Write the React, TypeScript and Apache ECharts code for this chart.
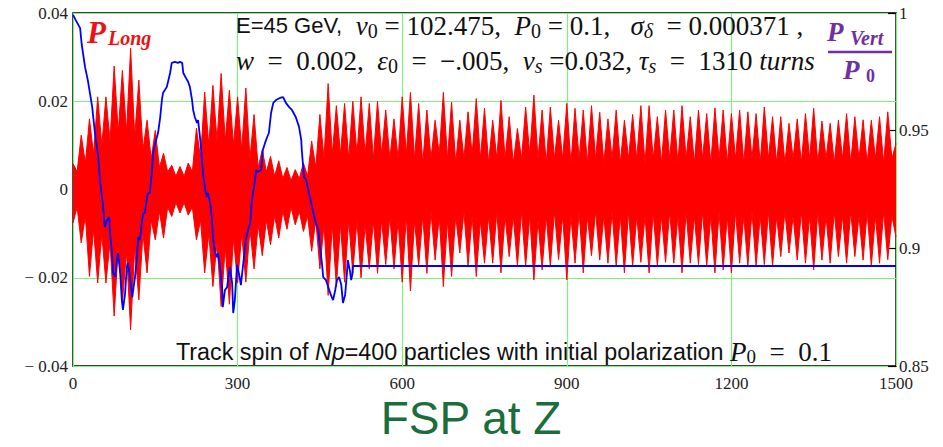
import { useEffect, useRef } from 'react';
import * as echarts from 'echarts';

// ---- data ----
// P_Long: the fast spin oscillation is drawn as its per-column envelope.
// Spike columns every 15 turns (upper / lower extremes) and the notch levels between them.
const spikeTurnStep = 15;
const hiPeaks = [
  0.0059, 0.0123, 0.016, 0.021, 0.021, 0.028, 0.027, 0.032, 0.0248, 0.0157,
  0.0134, 0.0082, 0.0055, 0.0052, 0.006, 0.0139, 0.0221, 0.0236, 0.0263, 0.0225,
  0.021, 0.023, 0.017, 0.009, 0.0075, 0.0065, 0.005, 0.0045, 0.006, 0.011,
  0.017, 0.024, 0.019, 0.0195, 0.02, 0.021, 0.0195, 0.02, 0.018, 0.016,
  0.021, 0.022, 0.0195, 0.018, 0.0157, 0.022, 0.0198, 0.0157, 0.0176, 0.0206,
  0.0184, 0.0157, 0.0202, 0.0165, 0.0138, 0.0187, 0.0214, 0.018, 0.0187, 0.0157,
  0.0195, 0.0184, 0.018, 0.019, 0.0175, 0.016, 0.018, 0.0157, 0.017, 0.019,
  0.019, 0.0165, 0.018, 0.018, 0.019, 0.0165, 0.018, 0.0172, 0.0185, 0.018,
  0.0172, 0.018, 0.0176, 0.0172, 0.0187, 0.0165, 0.0165, 0.015, 0.016, 0.0172,
  0.0184, 0.0155, 0.015, 0.0157, 0.0172, 0.0165, 0.0158, 0.0157, 0.0165, 0.0176,
  0.0104,
];
const hiNotches = [
  0.004, 0.006, 0.008, 0.01, 0.011, 0.013, 0.013, 0.012, 0.009, 0.007,
  0.005, 0.004, 0.003, 0.003, 0.004, 0.007, 0.01, 0.011, 0.011, 0.01,
  0.009, 0.007, 0.005, 0.004, 0.003, 0.0025, 0.002, 0.0025, 0.003, 0.005,
  0.007, 0.008, 0.008, 0.007, 0.008, 0.008, 0.007, 0.008, 0.007, 0.007,
  0.008, 0.007, 0.006, 0.007, 0.008, 0.007, 0.006, 0.007, 0.008, 0.007,
  0.006, 0.007, 0.007, 0.006, 0.007, 0.008, 0.007, 0.006, 0.007, 0.007,
  0.006, 0.007, 0.006, 0.007, 0.006, 0.007, 0.006, 0.007, 0.007, 0.006,
  0.007, 0.006, 0.007, 0.006, 0.007, 0.006, 0.007, 0.006, 0.007, 0.006,
  0.007, 0.006, 0.007, 0.006, 0.007, 0.006, 0.006, 0.007, 0.006, 0.007,
  0.006, 0.007, 0.006, 0.007, 0.006, 0.007, 0.006, 0.007, 0.006, 0.007,
];
const loPeaks = [
  -0.0076, -0.0121, -0.0197, -0.0212, -0.0212, -0.0287, -0.0257, -0.0318, -0.025, -0.0189,
  -0.0114, -0.011, -0.0061, -0.0053, -0.0058, -0.0114, -0.0189, -0.022, -0.0265, -0.026,
  -0.0212, -0.021, -0.018, -0.015, -0.0125, -0.011, -0.009, -0.008, -0.0095, -0.014,
  -0.018, -0.024, -0.022, -0.021, -0.019, -0.02, -0.018, -0.019, -0.017, -0.018,
  -0.021, -0.023, -0.0174, -0.019, -0.016, -0.022, -0.0197, -0.0144, -0.0174, -0.0197,
  -0.0167, -0.0167, -0.0189, -0.0152, -0.0174, -0.0174, -0.0205, -0.0182, -0.0174, -0.0159,
  -0.0205, -0.0167, -0.0189, -0.015, -0.016, -0.0167, -0.0174, -0.0189, -0.0174, -0.0165,
  -0.0189, -0.0174, -0.0165, -0.0167, -0.0189, -0.0167, -0.017, -0.0174, -0.0189, -0.0182,
  -0.0189, -0.0167, -0.0174, -0.0174, -0.017, -0.0174, -0.0152, -0.0144, -0.016, -0.0167,
  -0.0182, -0.016, -0.0167, -0.0152, -0.0167, -0.0152, -0.016, -0.0174, -0.0167, -0.0159,
  -0.0107,
];
const loNotches = [
  -0.004, -0.006, -0.009, -0.01, -0.012, -0.013, -0.014, -0.013, -0.01, -0.007,
  -0.005, -0.004, -0.003, -0.003, -0.004, -0.007, -0.01, -0.012, -0.013, -0.011,
  -0.01, -0.009, -0.008, -0.007, -0.006, -0.005, -0.004, -0.005, -0.006, -0.007,
  -0.008, -0.008, -0.008, -0.007, -0.007, -0.008, -0.007, -0.007, -0.006, -0.007,
  -0.006, -0.007, -0.006, -0.005, -0.006, -0.007, -0.006, -0.005, -0.006, -0.007,
  -0.006, -0.005, -0.006, -0.006, -0.005, -0.006, -0.007, -0.006, -0.005, -0.006,
  -0.006, -0.005, -0.006, -0.005, -0.006, -0.005, -0.006, -0.005, -0.006, -0.006,
  -0.005, -0.006, -0.005, -0.006, -0.005, -0.006, -0.005, -0.006, -0.005, -0.006,
  -0.005, -0.006, -0.005, -0.006, -0.005, -0.006, -0.005, -0.006, -0.005, -0.006,
  -0.005, -0.006, -0.005, -0.006, -0.005, -0.006, -0.005, -0.006, -0.005, -0.006,
];

// P_Vert / P0 (right axis)
const vertTurns = [
  0, 5, 13, 16, 22, 27, 35, 40, 46, 49, 55, 58, 62, 66, 67, 71, 73, 77, 80, 82,
  86, 89, 91, 95, 98, 100, 104, 108, 109, 113, 117, 119, 122, 126, 128, 131, 135, 137, 140, 144,
  146, 150, 153, 155, 159, 162, 164, 171, 177, 180, 186, 191, 195, 199, 201, 208, 210, 213, 217, 219,
  222, 226, 228, 232, 235, 237, 241, 244, 246, 250, 253, 255, 259, 262, 264, 268, 272, 273, 277, 281,
  283, 286, 290, 292, 295, 299, 303, 306, 310, 315, 319, 323, 326, 330, 334, 337, 343, 346, 350, 354,
  357, 361, 365, 370, 377, 383, 388, 394, 399, 406, 412, 416, 417, 421, 425, 430, 437, 441, 447, 450,
  454, 456, 461, 467, 470, 474, 478, 481, 485, 489, 492, 496, 499, 501, 505, 507, 509, 510, 1500,
];
const vertValues = [
  0.9992, 0.997, 0.9936, 0.9864, 0.977, 0.9715, 0.96, 0.949, 0.9388, 0.929, 0.9176, 0.909, 0.912, 0.9133, 0.9078, 0.898, 0.8895, 0.8878, 0.895, 0.898,
  0.8895, 0.878, 0.8738, 0.881, 0.892, 0.8938, 0.8878, 0.8793, 0.881, 0.8878, 0.898, 0.9048, 0.9035, 0.912, 0.915, 0.915, 0.9218, 0.9235, 0.9235, 0.9333,
  0.9405, 0.9448, 0.9473, 0.949, 0.9558, 0.963, 0.966, 0.9686, 0.9745, 0.9788, 0.9792, 0.9788, 0.9792, 0.9788, 0.9745, 0.9715, 0.9707, 0.9686, 0.963, 0.9588,
  0.9558, 0.9533, 0.9545, 0.946, 0.9375, 0.932, 0.9248, 0.9218, 0.9235, 0.9193, 0.9133, 0.9048, 0.898, 0.8963, 0.898, 0.892, 0.8823, 0.875, 0.8823, 0.8835,
  0.8878, 0.892, 0.8853, 0.8725, 0.878, 0.893, 0.8887, 0.8844, 0.893, 0.9035, 0.9078, 0.9108, 0.9205, 0.926, 0.9333, 0.9325, 0.9333, 0.9418, 0.9448, 0.9473,
  0.949, 0.9575, 0.9618, 0.963, 0.9639, 0.9643, 0.9618, 0.96, 0.9588, 0.9558, 0.9516, 0.946, 0.9418, 0.9303, 0.929, 0.9235, 0.9163, 0.912, 0.9078, 0.9014,
  0.893, 0.8878, 0.8865, 0.8823, 0.8802, 0.878, 0.8823, 0.8865, 0.8878, 0.8844, 0.8768, 0.8802, 0.8887, 0.895, 0.89, 0.8865, 0.8887, 0.8925, 0.8925,
];

const turnAxis = { min: 0, max: 1500, interval: 300 };
const longAxis = { min: -0.04, max: 0.04, interval: 0.02 };
const vertAxis = { min: 0.85, max: 1, interval: 0.05 };

const SERIF = "'Liberation Serif', 'DejaVu Serif', serif";
const SANS = "'Liberation Sans', Arial, sans-serif";
const GREEN = '#80f080';
const PURPLE = '#7030a0';
const RED_TEXT = '#ee1111';

function envelope(peaks: number[], notches: number[]) {
  const out: number[][] = [];
  peaks.forEach((p, k) => {
    out.push([k * spikeTurnStep, p]);
    if (k < notches.length) out.push([k * spikeTurnStep + spikeTurnStep / 2, notches[k]]);
  });
  return out;
}

export default function App() {
  const ref = useRef<HTMLDivElement>(null);
  useEffect(() => {
    document.body.style.margin = '0';
    const chart = echarts.init(ref.current!, null, { renderer: 'svg' });
    const redSeries = (name: string, data: number[][], origin: number) => ({
      name,
      type: 'line',
      data,
      showSymbol: false,
      symbol: 'none',
      lineStyle: { color: '#ff0000', width: 1 },
      areaStyle: { color: '#ff0000', opacity: 1, origin },
      z: 2,
      silent: true,
    });
    const mainRich: any = {
      s: { fontFamily: SANS, fontSize: 22, fill: '#111', lineHeight: 30 },
      m: { fontFamily: SERIF, fontSize: 27, fill: '#111', lineHeight: 30 },
      i: { fontFamily: SERIF, fontSize: 27, fontStyle: 'italic', fill: '#111', lineHeight: 30 },
      sub: { fontFamily: SERIF, fontSize: 20, fill: '#111', lineHeight: 4, verticalAlign: 'bottom' },
      subi: { fontFamily: SERIF, fontSize: 20, fontStyle: 'italic', fill: '#111', lineHeight: 4, verticalAlign: 'bottom' },
    };
    const bottomRich: any = {
      s: { fontFamily: SANS, fontSize: 23.3, fill: '#111', lineHeight: 28 },
      si: { fontFamily: SANS, fontSize: 23.3, fontStyle: 'italic', fill: '#111', lineHeight: 28 },
      m: { fontFamily: SERIF, fontSize: 27, fill: '#111', lineHeight: 28 },
      i: { fontFamily: SERIF, fontSize: 27, fontStyle: 'italic', fill: '#111', lineHeight: 28 },
      sub: { fontFamily: SERIF, fontSize: 19, fill: '#111', lineHeight: 2, verticalAlign: 'bottom' },
    };
    chart.setOption({
      animation: false,
      backgroundColor: '#ffffff',
      grid: { left: 73, right: 47, top: 13, bottom: 81, show: true, borderColor: '#000', borderWidth: 1.5 },
      xAxis: {
        type: 'value',
        ...turnAxis,
        axisLine: { show: false },
        axisTick: { show: false },
        splitLine: { show: true, lineStyle: { color: GREEN, width: 1.2 } },
        axisLabel: {
          fontFamily: SERIF, fontSize: 17, lineHeight: 16, color: '#222', margin: 9,
          formatter: (v: number) => String(v),
        },
      },
      yAxis: [
        {
          type: 'value',
          position: 'left',
          ...longAxis,
          axisLine: { show: false },
          axisTick: { show: false },
          splitLine: { show: true, lineStyle: { color: GREEN, width: 1.2 } },
          axisLabel: {
            fontFamily: SERIF,
            fontSize: 17,
            color: '#222',
            margin: 5,
            padding: [8, 0, 0, 0],
            formatter: (v: number) => (Math.abs(v) < 1e-9 ? '0' : (v < 0 ? '\u2212 ' : '') + Math.abs(v).toFixed(2)),
          },
        },
        {
          type: 'value',
          position: 'right',
          ...vertAxis,
          axisLine: { show: false },
          axisTick: { show: true, inside: true, length: 8, lineStyle: { color: '#000', width: 1.2 } },
          splitLine: { show: false },
          axisLabel: {
            fontFamily: SERIF,
            fontSize: 17,
            lineHeight: 14,
            color: '#222',
            margin: 3,
            padding: [3, 0, 0, 0],
            formatter: (v: number) => String(parseFloat(v.toFixed(2))),
          },
        },
      ],
      series: [
        redSeries('P_Long upper', envelope(hiPeaks, hiNotches), -0.0008),
        redSeries('P_Long lower', envelope(loPeaks, loNotches), 0.0008),
        {
          name: 'P_Vert/P0',
          type: 'line',
          yAxisIndex: 1,
          data: vertTurns.map((t, i) => [t, vertValues[i]]),
          showSymbol: false,
          symbol: 'none',
          lineStyle: { color: '#0000ff', width: 1.8 },
          z: 3,
          silent: true,
        },
      ],
      graphic: [
        { type: 'text', left: 87, top: 17, z: 10, style: { text: 'P', font: `italic bold 31px ${SERIF}`, fill: RED_TEXT } },
        { type: 'text', left: 108, top: 28, z: 10, style: { text: 'Long', font: `italic bold 20px ${SERIF}`, fill: RED_TEXT } },
        {
          type: 'text', left: 236, top: 12, z: 10,
          style: {
            text: '{s|E=45 GeV,}{m|  }{i|ν}{sub|0}{m| = 102.475,  }{i|P}{sub|0}{m| = 0.1,   }{i|σ}{subi|δ}{m|  = 0.000371 ,}',
            rich: mainRich,
          },
        },
        {
          type: 'text', left: 236, top: 47, z: 10,
          style: {
            text: '{i|w}{m|  =  0.002,  }{i|ε}{sub|0}{m|  =  −.005,  }{i|ν}{subi|s}{m| =0.032, }{i|τ}{subi|s}{m|  =  1310 }{i|turns}',
            rich: mainRich,
          },
        },
        { type: 'text', left: 827, top: 18, z: 10, style: { text: 'P', font: `italic bold 27px ${SERIF}`, fill: PURPLE } },
        { type: 'text', left: 850, top: 28, z: 10, style: { text: 'Vert', font: `italic bold 20px ${SERIF}`, fill: PURPLE } },
        { type: 'line', z: 10, shape: { x1: 828, y1: 52, x2: 892, y2: 52 }, style: { stroke: PURPLE, lineWidth: 2.5 } },
        { type: 'text', left: 843, top: 56, z: 10, style: { text: 'P', font: `italic bold 27px ${SERIF}`, fill: PURPLE } },
        { type: 'text', left: 866, top: 67, z: 10, style: { text: '0', font: `bold 18px ${SERIF}`, fill: PURPLE } },
        {
          type: 'text', left: 176, top: 338, z: 10,
          style: {
            text: '{s|Track spin of }{si|Np}{s|=400 particles with initial polarization }{i|P}{sub|0}{m|  =  0.1}',
            rich: bottomRich,
          },
        },
        {
          type: 'text', left: 'center', top: 395, z: 10,
          style: { text: 'FSP at Z', font: `46px ${SANS}`, fill: '#1b6e3c' },
        },
      ],
    });
    return () => chart.dispose();
  }, []);
  return <div ref={ref} style={{ width: 943, height: 447 }} />;
}
